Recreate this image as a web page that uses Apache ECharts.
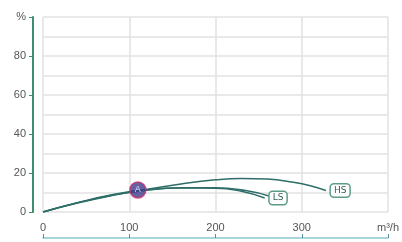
<!DOCTYPE html>
<html>
<head>
<meta charset="utf-8">
<script src="https://cdn.jsdelivr.net/npm/echarts@6/dist/echarts.min.js"></script>
<style>
  html, body { margin: 0; padding: 0; background: #fff; }
  #chart { width: 402px; height: 242px; }
</style>
</head>
<body>
<div id="chart"></div>
<script>
// flow in m3/h, efficiency in %
const hsFlow = [0, 40, 80, 120, 160, 200, 230, 260, 290, 310, 328];
const hsEff = [0, 4.6, 8.4, 11.6, 14.4, 16.5, 17.2, 16.9, 15.3, 13.5, 11.0];
const lsFlow = [0, 40, 80, 120, 160, 200, 230, 257];
const lsEff = [0, 4.7, 8.6, 11.2, 12.3, 12.2, 10.6, 7.2];
const ls2Flow = [0, 40, 80, 120, 160, 200, 235, 262];
const ls2Eff = [0, 4.8, 8.8, 11.5, 12.5, 12.5, 11.0, 8.2];
const pointA = [110, 11.3];
const xTicks = ['0', '100', '200', '300', 'm³/h'];
const yTicks = ['0', '20', '40', '60', '80', '%'];

const curveColor = '#2f6e68';

function pairs(xs, ys) {
  return xs.map(function (x, i) { return [x, ys[i]]; });
}

function curve(name, xs, ys, tag) {
  return {
    name: name,
    type: 'line',
    smooth: true,
    showSymbol: false,
    xAxisIndex: 0,
    yAxisIndex: 0,
    lineStyle: { color: curveColor, width: 1.5 },
    data: pairs(xs, ys),
    endLabel: tag ? {
      show: true,
      formatter: tag,
      distance: 5,
      color: '#2f5e58',
      fontSize: 9,
      fontFamily: 'DejaVu Sans',
      backgroundColor: '#fff',
      borderColor: '#5c9c86',
      borderWidth: 1.5,
      borderRadius: 3,
      padding: [2, 3, 1, 3]
    } : { show: false },
    z: 3
  };
}

const chart = echarts.init(document.getElementById('chart'), null, { renderer: 'canvas' });

chart.setOption({
  animation: false,
  backgroundColor: '#fff',
  grid: { left: 43, right: 14, top: 17, bottom: 30 },
  xAxis: [{
    type: 'value',
    min: 0, max: 400, interval: 100,
    axisLine: { show: false, onZero: false },
    axisTick: { show: false },
    axisLabel: {
      margin: 10, color: '#555', fontSize: 11,
      formatter: function (v) { return xTicks[v / 100]; }
    },
    splitLine: { show: true, lineStyle: { color: '#e2e2e2', width: 1.5 } }
  }, {
    type: 'value',
    position: 'bottom',
    offset: 26,
    min: 0, max: 400, interval: 100,
    axisLine: { show: true, onZero: false, lineStyle: { color: '#8cc6d0', width: 1.5 } },
    axisTick: { show: true, inside: true, length: 4, lineStyle: { color: '#5a8fa0' } },
    axisLabel: { show: false },
    splitLine: { show: false }
  }],
  yAxis: [{
    type: 'value',
    min: 0, max: 100, interval: 20,
    offset: 10,
    axisLine: { show: true, onZero: false, lineStyle: { color: '#3f8c6e', width: 2 } },
    axisTick: { show: true, length: 4, lineStyle: { color: '#3f8c6e' } },
    axisLabel: {
      margin: 7, color: '#555', fontSize: 11,
      formatter: function (v) { return yTicks[v / 20]; }
    },
    splitLine: { show: false }
  }, {
    type: 'value',
    min: 0, max: 100, interval: 10,
    axisLine: { show: false, onZero: false },
    axisTick: { show: false },
    axisLabel: { show: false },
    splitLine: { show: true, lineStyle: { color: '#e2e2e2', width: 1.5 } }
  }],
  series: [
    curve('HS', hsFlow, hsEff, 'HS'),
    curve('LS2', ls2Flow, ls2Eff, null),
    curve('LS', lsFlow, lsEff, 'LS'),
    {
      name: 'A',
      type: 'scatter',
      symbolSize: 16,
      data: [pointA],
      itemStyle: { color: '#3d3a8e', borderColor: '#c8306a', borderWidth: 1.5 },
      label: { show: true, position: 'inside', formatter: 'A', color: '#fff', fontSize: 9 },
      z: 5
    }
  ]
});
</script>
</body>
</html>
